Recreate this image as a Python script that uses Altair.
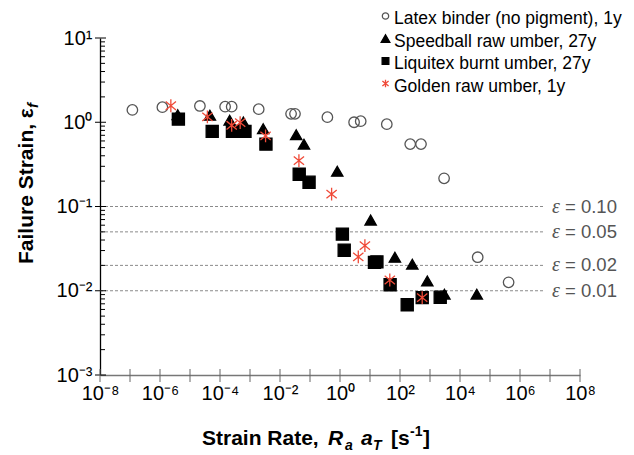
import math

import altair as alt
import pandas as pd

# ---- data -------------------------------------------------------------
series_names = [
    "Latex binder (no pigment), 1y",
    "Speedball raw umber, 27y",
    "Liquitex burnt umber, 27y",
    "Golden raw umber, 1y",
]

latex_rate = [1.2e-7, 1.2e-6, 2.14e-5, 1.48e-4, 2.45e-4, 1.95e-3, 0.0234, 0.0316,
              0.38, 2.95, 4.9, 36.3, 219, 501, 2950, 38900, 417000]
latex_strain = [1.40, 1.51, 1.56, 1.53, 1.53, 1.43, 1.26, 1.26,
                1.15, 1.00, 1.03, 0.95, 0.55, 0.55, 0.216, 0.025, 0.0126]

speedball_rate = [3.9e-6, 4.6e-5, 2.1e-4, 6.0e-4, 2.75e-3, 0.0347, 0.063,
                  0.81, 10.5, 67.6, 257, 813, 3020, 36300]
speedball_strain = [1.23, 1.21, 1.06, 1.01, 0.84, 0.71, 0.55,
                    0.262, 0.069, 0.025, 0.0207, 0.0131, 0.0091, 0.0091]

liquitex_rate = [4.1e-6, 5.5e-5, 2.6e-4, 6.8e-4, 3.4e-3, 0.0437, 0.093,
                 1.2, 1.38, 14.1, 17.0, 46.8, 174, 550, 2190]
liquitex_strain = [1.09, 0.78, 0.78, 0.78, 0.55, 0.241, 0.194,
                   0.047, 0.0303, 0.0217, 0.0220, 0.0118, 0.00683, 0.00828, 0.00837]

golden_rate = [2.3e-6, 3.8e-5, 2.45e-4, 4.7e-4, 3.3e-3, 0.0427, 0.525,
               4.07, 6.76, 45.7, 550]
golden_strain = [1.57, 1.16, 0.92, 0.99, 0.69, 0.350, 0.140,
                 0.0252, 0.0343, 0.0134, 0.00828]

strain_levels = [0.10, 0.05, 0.02, 0.01]
strain_level_labels = ["= 0.10", "= 0.05", "= 0.02", "= 0.01"]

x_decades = [10.0 ** e for e in range(-8, 9)]
x_label_values = [10.0 ** e for e in range(-8, 9, 2)]
x_label_texts = ["10⁻⁸", "10⁻⁶", "10⁻⁴", "10⁻²", "10⁰", "10²", "10⁴", "10⁶", "10⁸"]
y_decades = [10.0 ** e for e in range(-3, 2)]
y_label_texts = ["10⁻³", "10⁻²", "10⁻¹", "10⁰", "10¹"]
y_minor = [k * 10.0 ** e for e in range(-3, 1) for k in range(2, 10)]

# ---- tables -----------------------------------------------------------
rows = []
for name, rates, strains in zip(
    series_names,
    [latex_rate, speedball_rate, liquitex_rate, golden_rate],
    [latex_strain, speedball_strain, liquitex_strain, golden_strain],
):
    rows += [{"series": name, "rate": r, "strain": s} for r, s in zip(rates, strains)]
df = pd.DataFrame(rows)

levels_df = pd.DataFrame({"eps": strain_levels, "label": strain_level_labels})
xdec_df = pd.DataFrame({"v": x_decades})
ydec_df = pd.DataFrame({"v": y_decades})
ymin_df = pd.DataFrame({"v": y_minor})
one = pd.DataFrame({"k": [0]})

W, H = 480, 337
FONT = "Liberation Sans"


def label_expr(values, texts):
    expr = "''"
    for v, t in zip(values[::-1], texts[::-1]):
        e = round(math.log10(v))
        expr = f"abs(log(datum.value)/LN10 - ({e})) < 0.01 ? '{t}' : " + expr
    return expr


x_scale = alt.Scale(type="log", domain=[1e-8, 1e8])
y_scale = alt.Scale(type="log", domain=[1e-3, 10])

STAR = "M-0.8,-0.65L0.8,0.65M-0.8,0.65L0.8,-0.65M0,-1L0,1"
shapes = ["circle", "triangle-up", "square", STAR]
fills = ["transparent", "black", "black", "transparent"]
strokes = ["#555555", "black", "black", "#f04a38"]
sizes = [110, 165, 100, 130]
legend_sizes = [40, 75, 45, 60]
cat = dict(domain=series_names)

points = alt.Chart(df).mark_point(strokeWidth=1.3, opacity=1).encode(
    x=alt.X("rate:Q", scale=x_scale, axis=alt.Axis(
        values=x_label_values, labelExpr=label_expr(x_label_values, x_label_texts),
        ticks=False, tickSize=0, grid=False, title=None, domainColor="#777777",
        domainWidth=1.5, labelFont=FONT, labelFontSize=20, labelColor="black",
        labelPadding=8, labelFlush=False, labelOverlap=False)),
    y=alt.Y("strain:Q", scale=y_scale, axis=alt.Axis(
        values=y_decades, labelExpr=label_expr(y_decades, y_label_texts),
        ticks=False, tickSize=0, grid=False, title=None, domainColor="black",
        domainWidth=1.3, labelFont=FONT, labelFontSize=20, labelColor="black",
        labelPadding=8, labelFlush=False, labelOverlap=False)),
    shape=alt.Shape("series:N", scale=alt.Scale(range=shapes, **cat), legend=None),
    fill=alt.Fill("series:N", scale=alt.Scale(range=fills, **cat), legend=None),
    stroke=alt.Stroke("series:N", scale=alt.Scale(range=strokes, **cat), legend=None),
    size=alt.Size("series:N", scale=alt.Scale(range=sizes, **cat), legend=None),
)

# dashed reference strain levels with their labels
level_rules = alt.Chart(levels_df).mark_rule(color="#8a8a8a", strokeDash=[3, 2], strokeWidth=1).encode(
    y=alt.Y("eps:Q", scale=y_scale), x=alt.value(0), x2=alt.value(443))
level_eps = alt.Chart(levels_df).mark_text(
    text="ε", font="Liberation Serif", fontStyle="italic", fontSize=20, color="#555555",
    align="left", baseline="middle").encode(y=alt.Y("eps:Q", scale=y_scale), x=alt.value(452))
level_txt = alt.Chart(levels_df).mark_text(
    font=FONT, fontSize=18.5, color="#555555", align="left", baseline="middle").encode(
    y=alt.Y("eps:Q", scale=y_scale), x=alt.value(465), text="label:N")

# tick marks: y major cross the axis, y minor point inward, x ticks cross
y_major = alt.Chart(ydec_df).mark_rule(color="black", strokeWidth=1).encode(
    y=alt.Y("v:Q", scale=y_scale), x=alt.value(-5), x2=alt.value(6))
y_minor_t = alt.Chart(ymin_df).mark_rule(color="black", strokeWidth=1).encode(
    y=alt.Y("v:Q", scale=y_scale), x=alt.value(0), x2=alt.value(5))
x_ticks = alt.Chart(xdec_df).mark_rule(color="#666666", strokeWidth=1).encode(
    x=alt.X("v:Q", scale=x_scale), y=alt.value(H - 6), y2=alt.value(H + 7))


def txt(s, x, y, size=21, italic=False, angle=0, bold=True, color="black", baseline="alphabetic"):
    kw = dict(text=s, font=FONT, fontSize=size, align="left", baseline=baseline, color=color)
    if bold:
        kw["fontWeight"] = "bold"
    if italic:
        kw["fontStyle"] = "italic"
    if angle:
        kw["angle"] = angle
    return alt.Chart(one).mark_text(**kw).encode(x=alt.value(x), y=alt.value(y))


# legend in the upper right corner
legend_layers = []
for i, name in enumerate(series_names):
    row_y = -19 + 22.5 * i
    legend_layers.append(
        alt.Chart(one).mark_point(
            shape=shapes[i], fill=fills[i], stroke=strokes[i], strokeWidth=1.3,
            size=legend_sizes[i], opacity=1,
        ).encode(x=alt.value(285.5), y=alt.value(row_y - 3))
    )
    legend_layers.append(txt(name, 294, row_y, size=17.5, bold=False, baseline="middle"))

# x-axis title: Strain Rate, R_a a_T [s^-1]
ty = 407
x_title = [
    txt("Strain Rate,", 102, ty),
    txt("R", 228, ty, italic=True),
    txt("a", 245, ty + 5, size=14, italic=True),
    txt("a", 261, ty, italic=True),
    txt("T", 273, ty + 5, size=14, italic=True),
    txt("[s", 291, ty),
    txt("-1", 310, ty - 9, size=14),
    txt("]", 323, ty),
]
# y-axis title: Failure Strain, eps_f (rotated)
y_title = [
    txt("Failure Strain, ε", -67, 226, angle=270),
    txt("f", -62, 70, size=15, italic=True, angle=270),
]

chart = alt.layer(
    level_rules, level_eps, level_txt, y_minor_t, y_major, x_ticks, points,
    *legend_layers, *x_title, *y_title
).properties(
    width=W, height=H,
    autosize=alt.AutoSizeParams(type="none"),
    padding={"left": 100, "top": 38, "right": 54, "bottom": 80},
).configure_view(stroke=None)

chart.save("out.html", embed_options={"renderer": "svg", "actions": False})
